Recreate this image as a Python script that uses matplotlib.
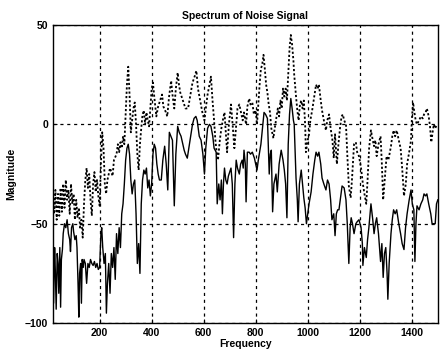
import matplotlib.pyplot as plt

plt.rcParams['font.family'] = ['Liberation Sans', 'DejaVu Sans']

# dotted (upper) spectrum
freq_top = [20, 25, 30, 35, 40, 45, 50, 55, 60, 65, 70, 75, 80, 85, 90, 95, 100, 105, 110, 115,
            120, 125, 130, 135, 140, 145, 150, 155, 160, 165, 170, 175, 180, 185, 190, 195, 200,
            205, 210, 215, 220, 225, 230, 240, 250, 255, 265, 270, 275, 280, 285, 290, 295, 300,
            305, 310, 315, 320, 325, 330, 335, 340, 345, 350, 355, 360, 365, 370, 375, 380, 385,
            390, 395, 400, 405, 410, 418, 425, 430, 440, 445, 455, 460, 467, 475, 480, 487, 493,
            500, 505, 510, 520, 530, 540, 548, 557, 565, 572, 578, 585, 595, 603, 610, 615, 622,
            628, 634, 640, 645, 650, 655, 662, 668, 675, 680, 685, 690, 697, 705, 710, 718, 724,
            730, 737, 745, 750, 755, 763, 768, 775, 780, 787, 793, 800, 805, 810, 815, 820, 825,
            830, 835, 840, 845, 850, 855, 860, 868, 872, 878, 885, 890, 895, 900, 905, 910, 915,
            920, 925, 930, 935, 940, 945, 948, 955, 960, 965, 970, 975, 980, 985, 990, 993, 1000,
            1005, 1010, 1017, 1025, 1032, 1038, 1043, 1050, 1055, 1062, 1070, 1075, 1082, 1088,
            1095, 1100, 1105, 1112, 1118, 1124, 1130, 1135, 1140, 1147, 1152, 1158, 1165, 1170,
            1178, 1185, 1190, 1197, 1205, 1212, 1218, 1225, 1230, 1236, 1243, 1250, 1255, 1260,
            1265, 1272, 1280, 1285, 1290, 1296, 1303, 1310, 1320, 1325, 1330, 1336, 1342, 1350,
            1357, 1363, 1370, 1377, 1382, 1390, 1397, 1400, 1405, 1410, 1415, 1420, 1428, 1435,
            1442, 1447, 1453, 1458, 1465, 1470, 1475, 1480, 1485, 1490, 1497]
mag_top = [-30, -45, -33, -48, -35, -46, -32, -44, -30, -42, -28, -38, -33, -45, -30, -40, -35, -48,
           -38, -47, -42, -52, -48, -57, -40, -28, -22, -32, -25, -38, -46, -30, -24, -34, -28, -36,
           -41, -20, -4, -12, -30, -35, -28, -22, -26, -18, -15, -10, -14, -9, -12, -6, -10, 5,
           20, 29, 15, -4, 2, 8, 11, 0, -15, -23, -10, -2, 5, 7, 0, 6, 2, -1, 8, 18, 21, 14, 4, 9,
           11, 15, 9, 6, 4, 14, 22, 15, 8, 18, 26, 20, 16, 12, 8, 8, 14, 21, 24, 27, 18, 13, 6, 2,
           10, 15, 20, 24, 12, 2, -8, -14, -18, -8, -2, 3, 6, -4, -14, 0, 10, 2, -12, -2, 8, 10,
           5, 2, 6, 0, 9, 13, 10, 11, 5, 7, 0, 10, 20, 28, 30, 35, 28, 20, 16, 10, 6, -2, -7, -3,
           2, 8, 4, 12, 8, 18, 14, 18, 12, 25, 38, 45, 40, 32, 25, 14, 7, 2, 10, 12, 8, 12, 0, -14,
           -8, -5, 2, 7, 14, 20, 18, 20, 12, 7, 2, -3, 2, 5, -2, -8, -17, -5, -20, -10, -2, 4, 5,
           2, 0, -15, -31, -37, -28, -10, -9, -14, -16, -22, -30, -35, -40, -28, -12, -3, -8, -11,
           -8, -16, -10, -6, -20, -38, -28, -16, -18, -11, -6, -3, -6, -3, -8, -12, -22, -36, -30,
           -20, -14, -8, 2, 11, 6, 2, 0, 2, 4, 3, 5, 6, 8, 4, -1, -9, -4, 0, -2, 0]

# solid (lower) spectrum
freq_bot = [20, 23, 27, 30, 33, 37, 40, 43, 47, 50, 53, 57, 60, 65, 70, 75, 80, 85, 88, 92, 97,
            100, 105, 110, 113, 117, 120, 123, 127, 130, 133, 137, 140, 145, 150, 155, 160, 165,
            170, 175, 180, 185, 190, 195, 200, 205, 208, 212, 217, 222, 226, 230, 235, 240, 245,
            250, 255, 260, 265, 270, 275, 280, 285, 290, 295, 300, 305, 310, 315, 320, 325, 330,
            335, 340, 345, 350, 355, 360, 365, 370, 375, 380, 385, 390, 395, 400, 405, 410, 415,
            420, 425, 430, 437, 443, 450, 456, 462, 468, 474, 480, 487, 493, 500, 506, 513, 520,
            525, 530, 537, 543, 550, 557, 563, 570, 575, 583, 590, 597, 603, 608, 615, 622, 628,
            635, 640, 648, 652, 658, 663, 668, 672, 676, 680, 685, 690, 695, 700, 705, 710, 715,
            720, 725, 730, 737, 742, 748, 752, 755, 760, 763, 768, 775, 780, 787, 795, 800, 805,
            810, 815, 820, 826, 832, 838, 845, 852, 856, 860, 865, 870, 878, 883, 890, 898, 905,
            910, 915, 920, 925, 930, 935, 940, 945, 948, 955, 960, 963, 968, 975, 980, 985, 990,
            995, 1000, 1005, 1013, 1020, 1027, 1032, 1038, 1043, 1050, 1055, 1062, 1070, 1076,
            1082, 1088, 1093, 1100, 1105, 1110, 1115, 1120, 1125, 1132, 1140, 1147, 1152, 1158,
            1163, 1167, 1172, 1178, 1185, 1190, 1197, 1205, 1210, 1212, 1218, 1225, 1230, 1235,
            1243, 1250, 1255, 1260, 1265, 1272, 1280, 1285, 1290, 1295, 1300, 1305, 1308, 1313,
            1320, 1325, 1330, 1336, 1342, 1350, 1357, 1363, 1370, 1376, 1382, 1390, 1397, 1402,
            1408, 1412, 1416, 1420, 1428, 1435, 1442, 1447, 1453, 1458, 1465, 1473, 1478, 1485,
            1490, 1495, 1500]
mag_bot = [-65, -90, -62, -75, -93, -65, -70, -85, -62, -92, -68, -63, -55, -50, -52, -48, -55,
           -58, -64, -52, -50, -54, -58, -56, -62, -80, -97, -75, -70, -90, -68, -72, -68, -70,
           -80, -70, -72, -68, -70, -71, -69, -72, -70, -73, -72, -55, -52, -62, -70, -65, -95,
           -80, -70, -85, -65, -72, -62, -78, -55, -65, -52, -62, -45, -40, -30, -18, -12, -10,
           -15, -28, -35, -30, -28, -45, -70, -60, -75, -40, -28, -23, -25, -22, -32, -28, -36,
           -30, -15, -10, -12, -20, -25, -28, -28, -18, -11, -20, -33, -4, -6, -8, -41, -15, -1,
           -4, -6, -10, -13, -15, -17, -12, -6, 0, 3, 4, 2, -6, -8, -15, -25, -12, -2, 0, -1, -6,
           -12, -14, -40, -30, -38, -28, -45, -30, -22, -28, -30, -26, -24, -22, -30, -57, -30,
           -18, -22, -25, -20, -18, -22, -13, -20, -39, -14, -14, -15, -14, -17, -20, -23, -18,
           -14, -10, -2, 6, 5, 3, -25, -15, -13, -44, -30, -25, -34, -20, -13, -18, -23, -30, -47,
           -10, 5, 13, 8, 2, 0, -27, -38, -49, -30, -23, -30, -37, -42, -50, -45, -40, -34, -25,
           -18, -14, -16, -14, -20, -27, -30, -33, -28, -30, -38, -48, -45, -56, -45, -43, -43,
           -38, -31, -32, -38, -50, -70, -52, -47, -50, -55, -50, -49, -48, -52, -60, -71, -62,
           -67, -58, -52, -40, -48, -55, -50, -47, -55, -69, -60, -77, -65, -62, -75, -88, -70,
           -55, -48, -43, -45, -43, -50, -55, -60, -63, -52, -45, -38, -33, -40, -43, -69, -50,
           -41, -43, -40, -38, -35, -36, -35, -40, -45, -50, -50, -50, -40, -38]

xticks = [200, 400, 600, 800, 1000, 1200, 1400]
yticks = [-100, -50, 0, 50]

fig = plt.figure(figsize=(4.4, 3.57), dpi=100)
ax = fig.add_axes([0.12, 0.095, 0.875, 0.835])

ax.plot(freq_top, mag_top, color='black', linestyle=(0, (1.2, 1.2)), linewidth=1.3)
ax.plot(freq_bot, mag_bot, color='black', linestyle='-', linewidth=1.0)

ax.set_xlim(20, 1500)
ax.set_ylim(-100, 50)
ax.set_xticks(xticks)
ax.set_yticks(yticks)
ax.grid(True, color='black', linestyle=(0, (2.5, 3)), linewidth=0.9)
ax.tick_params(direction='in', length=3, labelsize=7.5, width=0.8)
for lab in ax.get_xticklabels() + ax.get_yticklabels():
    lab.set_fontweight('bold')
for sp in ax.spines.values():
    sp.set_linewidth(1.0)

ax.set_title('Spectrum of Noise Signal', fontsize=7.5, fontweight='bold', pad=4)
ax.set_xlabel('Frequency', fontsize=7.5, fontweight='bold', labelpad=1)
ax.set_ylabel('Magnitude', fontsize=7.5, fontweight='bold', labelpad=6)

fig.savefig('out.png', dpi=100)
